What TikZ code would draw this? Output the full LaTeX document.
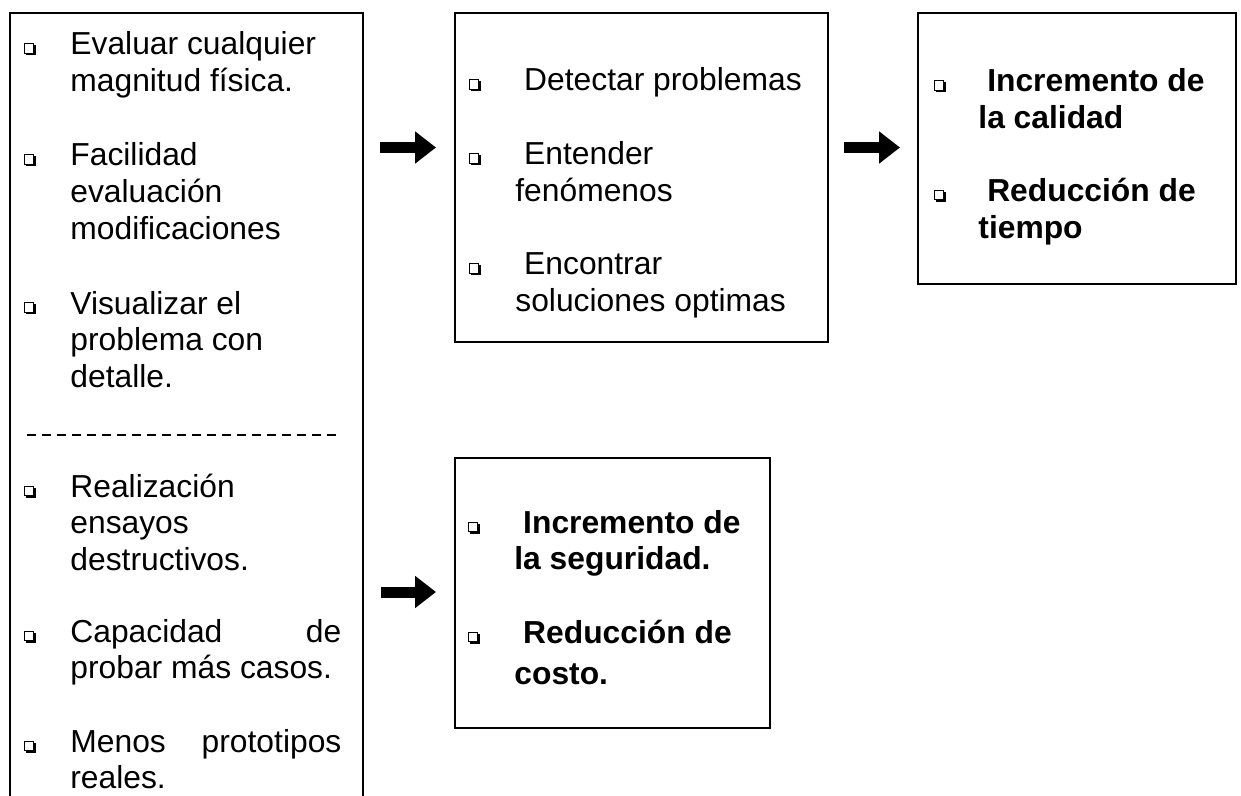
\documentclass[tikz,border=0pt]{standalone}
\usepackage{fontspec}
\setmainfont{Liberation Sans}
\usetikzlibrary{arrows.meta}
\tikzset{
  box/.style={draw, line width=1.2pt, anchor=north west, inner sep=0pt},
  % anchor = baseline of the LAST line of the item
  item/.style={anchor=base west, inner sep=0pt, align=left,
    font=\fontsize{15.9}{18.3}\selectfont},
  bolditem/.style={item, font=\fontsize{15.9}{18.3}\selectfont\bfseries},
  blockarrow/.style={line width=5.5pt, -{Triangle[length=10.5pt,width=15.5pt]}},
  bul/.pic={
    \draw[line width=0.5pt, fill=white] (0,-11) rectangle (9.5,-1.5);
    \draw[line width=1pt] (1.5,-0.5) -- (10.5,-0.5) -- (10.5,-9.5);
  }
}
\newcommand\jline[1]{\makebox[135.5pt][s]{#1}}
\begin{document}
\begin{tikzpicture}[x=0.5pt,y=-0.5pt]
\fill[white] (0,0) rectangle (1241,796);
\clip (0,0) rectangle (1241,796);

% boxes
\node[box, minimum width=176.5pt, minimum height=400pt] (b1) at (9,12) {};
\node[box, minimum width=186.5pt, minimum height=164.5pt] (b2) at (454,12) {};
\node[box, minimum width=159pt, minimum height=135.5pt] (b3) at (917,12) {};
\node[box, minimum width=157.5pt, minimum height=135pt] (b4) at (454,457) {};

% left box items
\node[item] (l1) at (70,91.6) {Evaluar cualquier\\magnitud física.};
\node[item] (l2) at (70,239.2) {Facilidad\\evaluación\\modificaciones};
\node[item] (l3) at (70,387.2) {Visualizar el\\problema con\\detalle.};
\coordinate (dl) at (27,435);
\coordinate (dr) at (341,435);
\draw[line width=1pt, dash pattern=on 4.5pt off 3pt] (dl) -- (dr);
\node[item] (l4) at (70,570.2) {Realización\\ensayos\\destructivos.};
\node[item] (l5) at (70,678.6) {\jline{Capacidad de}\\probar más casos.};
\node[item] (l6) at (70,788.6) {\jline{Menos prototipos}\\reales.};
\foreach \y in {55,166,314,497,642,752} \pic at (24,\y) {bul};

% box 2 items
\node[item] (m1) at (515,91) {\ Detectar problemas};
\node[item] (m2) at (515,201.6) {\ Entender\\fenómenos};
\node[item] (m3) at (515,311.6) {\ Encontrar\\soluciones optimas};
\foreach \y in {91,165,275} \pic at (469,\y) {bul};

% box 3 items
\node[bolditem] (r1) at (978,128.6) {\ Incremento de\\la calidad};
\node[bolditem] (r2) at (978,238.1) {\ Reducción de\\tiempo};
\foreach \y in {92,201.5} \pic at (934,\y) {bul};

% box 4 items
\node[bolditem] (s1) at (514,569.6) {\ Incremento de\\la seguridad.};
\node[bolditem] (s2) at (514,684) {\ Reducción de\\[2.2pt]costo.};
\foreach \y in {533,643} \pic at (468,\y) {bul};

% block arrows
\coordinate (a1s) at (380,147.5);
\coordinate (a1e) at (436,147.5);
\coordinate (a2s) at (844,147.5);
\coordinate (a2e) at (900,147.5);
\coordinate (a3s) at (381,592);
\coordinate (a3e) at (436,592);
\draw[blockarrow] (a1s) -- (a1e);
\draw[blockarrow] (a2s) -- (a2e);
\draw[blockarrow] (a3s) -- (a3e);
\end{tikzpicture}
\end{document}
